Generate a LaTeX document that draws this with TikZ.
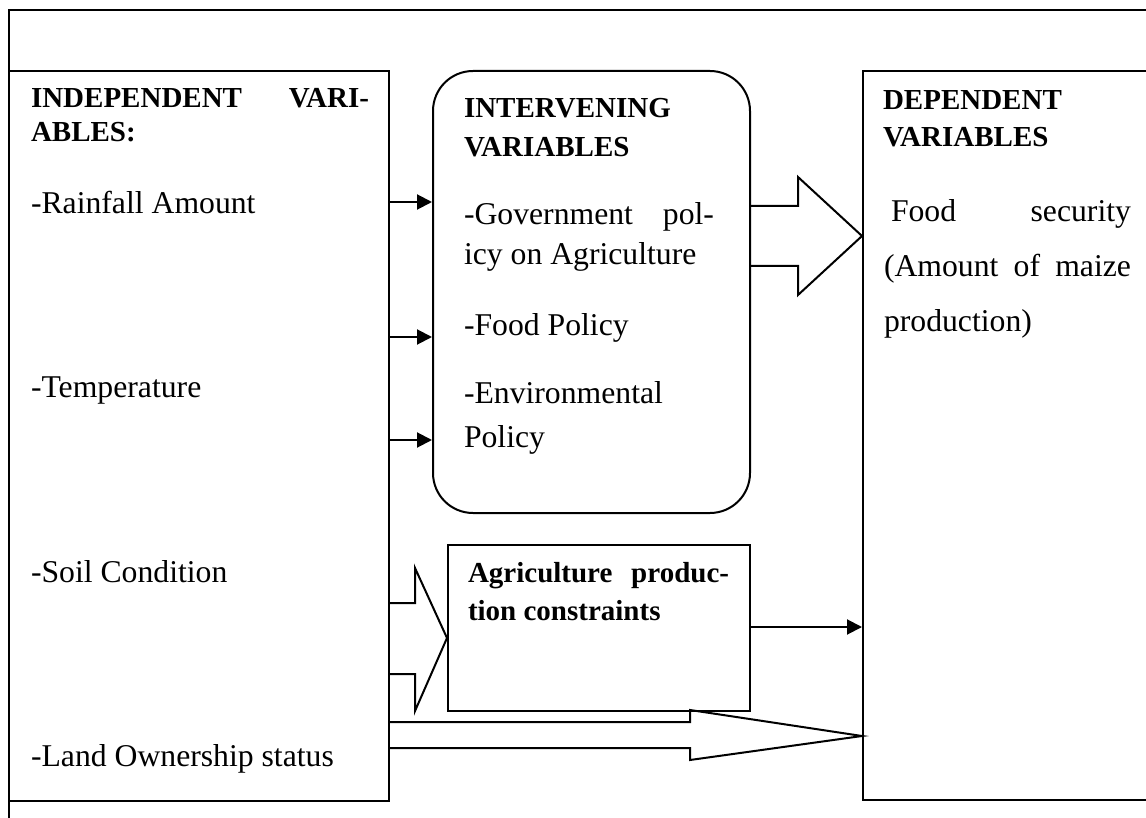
\documentclass[tikz,border=0pt]{standalone}
\usepackage{fontspec}
\setmainfont{Liberation Serif}
\usetikzlibrary{arrows.meta}
\newcommand\txtreg{\fontsize{31.7}{38}\selectfont}
\newcommand\txthd{\fontsize{29}{35}\selectfont\bfseries}
\begin{document}
\begin{tikzpicture}[x=1pt,y=-1pt,line width=2pt,
  box/.style={draw,line width=2pt,anchor=north west,inner sep=0pt},
  lbl/.style={anchor=base west,inner sep=0pt,font=\txtreg},
  hdl/.style={anchor=base west,inner sep=0pt,font=\txthd},
  thin/.style={line width=2pt,-{Triangle[length=15pt,width=15pt]}},
  blockarrow/.style={line width=2pt,line join=miter}]
\useasboundingbox (0,0) rectangle (1146,818);
\clip (0,0) rectangle (1146,818);
% outer frame (extends past the picture edge)
\node[box,minimum width=1300pt,minimum height=1000pt] (frame) at (8,9) {};
% boxes
\node[box,minimum width=380pt,minimum height=730pt] (indep) at (8,70) {};
\node[box,rounded corners=40pt,minimum width=317pt,minimum height=442pt] (interv) at (432,70) {};
\node[box,minimum width=320pt,minimum height=729pt] (dep) at (862,70) {};
\node[box,minimum width=302pt,minimum height=166pt] (agri) at (447,544) {};
% texts: independent
\node[hdl] (i1) at (30,108) {\hbox to 338pt{INDEPENDENT\hfill VARI-}};
\node[hdl] (i2) at (30,142) {ABLES:};
\node[lbl] (i3) at (30,214) {-Rainfall Amount};
\node[lbl] (i4) at (30,397) {-Temperature};
\node[lbl] (i5) at (30,582) {-Soil Condition};
\node[lbl] (i6) at (30,766) {-Land Ownership status};
% texts: intervening
\node[hdl] (v1) at (463,118) {INTERVENING};
\node[hdl] (v2) at (463,157) {VARIABLES};
\node[lbl] (v3) at (463,225) {\hbox to 250pt{-Government\hfill pol-}};
\node[lbl] (v4) at (463,265) {icy on Agriculture};
\node[lbl] (v5) at (463,335) {-Food Policy};
\node[lbl] (v6) at (463,403) {-Environmental};
\node[lbl] (v7) at (463,447) {Policy};
% texts: dependent
\node[hdl] (d1) at (882,110) {DEPENDENT};
\node[hdl] (d2) at (882,147) {VARIABLES};
\node[lbl] (d3) at (890,222) {\hbox to 240pt{Food\hfill security}};
\node[lbl] (d4) at (883,277) {\hbox to 247pt{(Amount\hfill of\hfill maize}};
\node[lbl] (d5) at (883,332) {production)};
% texts: agriculture
\node[hdl] (a1) at (467,582) {\hbox to 261pt{Agriculture\hfill produc-}};
\node[hdl] (a2) at (467,620) {tion constraints};
% helper coordinates
\coordinate (r1) at (0,202);
\coordinate (r2) at (0,337);
\coordinate (r3) at (0,440);
\coordinate (r4) at (0,627);
% thin arrows
\draw[thin] (indep.east |- r1) -- (interv.west |- r1);
\draw[thin] (indep.east |- r2) -- (interv.west |- r2);
\draw[thin] (indep.east |- r3) -- (interv.west |- r3);
\draw[thin] (agri.east |- r4) -- (dep.west |- r4);
% block arrow: intervening -> dependent
\coordinate (b1a) at (0,206);
\coordinate (b1b) at (0,266);
\coordinate (b1t) at (0,236);
\draw[blockarrow] (interv.east |- b1a) -- (798,206) -- (798,177) -- (dep.west |- b1t)
  -- (798,295) -- (798,266) -- (interv.east |- b1b);
% block arrow: independent -> agriculture
\coordinate (b2a) at (0,603);
\coordinate (b2b) at (0,674);
\coordinate (b2t) at (0,638);
\draw[blockarrow] (indep.east |- b2a) -- (415,603) -- (415,568) -- (agri.west |- b2t)
  -- (415,711) -- (415,674) -- (indep.east |- b2b);
% block arrow: independent -> dependent
\coordinate (b3a) at (0,722);
\coordinate (b3b) at (0,748);
\coordinate (b3t) at (0,736);
\draw[blockarrow] (indep.east |- b3a) -- (690,722) -- (690,710) -- (dep.west |- b3t)
  -- (690,760) -- (690,748) -- (indep.east |- b3b);
\end{tikzpicture}
\end{document}
